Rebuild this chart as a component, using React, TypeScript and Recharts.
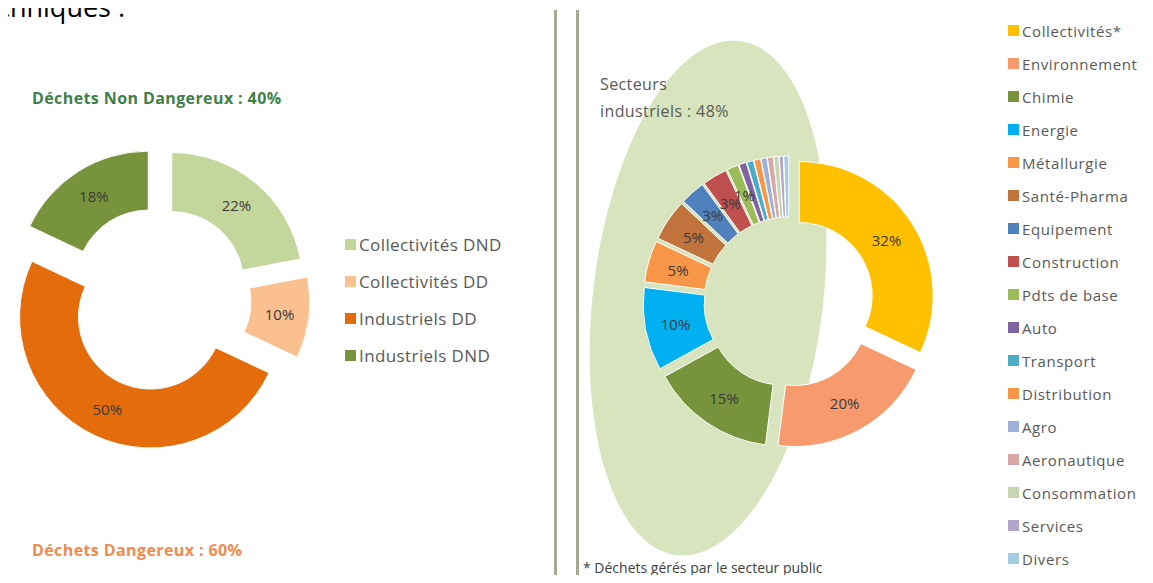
import React from 'react';
import { PieChart, Pie, Cell, Legend } from 'recharts';

// left donut: waste origin
const leftNames = ['Collectivités DND', 'Collectivités DD', 'Industriels DD', 'Industriels DND'];
const leftValues = [22, 10, 50, 18];
const leftColors = ['#c3d69b', '#fac090', '#e46c0a', '#77933c'];

// right donut: sectors
const rightNames = [
  'Collectivités*', 'Environnement', 'Chimie', 'Energie', 'Métallurgie', 'Santé-Pharma',
  'Equipement', 'Construction', 'Pdts de base', 'Auto', 'Transport', 'Distribution',
  'Agro', 'Aeronautique', 'Consommation', 'Services', 'Divers',
];
const rightValues = [32, 20, 15, 10, 5, 5, 3, 3, 1.4, 0.9, 0.8, 0.8, 0.7, 0.7, 0.6, 0.5, 0.6];
const rightColors = [
  '#ffc000', '#f79b6e', '#77933c', '#00b0f0', '#f79646', '#c0743c',
  '#4f81bd', '#c0504d', '#9bbb59', '#8064a2', '#4bacc6', '#f79646',
  '#9db0da', '#d6a7a5', '#c6d6b0', '#b3a6cb', '#a3cde0',
];

const leftData = leftNames.map((name, i) => ({ name, value: leftValues[i] }));
const rightData = rightNames.map((name, i) => ({ name, value: rightValues[i] }));

// offset of each exploded slice, along its bisector (clockwise from 12 o'clock)
const explodeOffsets = (values: number[], d: number) => {
  const total = values.reduce((a, b) => a + b, 0);
  let acc = 0;
  return values.map((v) => {
    const mid = ((acc + v / 2) / total) * 2 * Math.PI;
    acc += v;
    return { dx: d * Math.sin(mid), dy: -d * Math.cos(mid) };
  });
};

const makeLabel = (explode: number, minValue: number) => (props: any) => {
  const { cx, cy, midAngle, innerRadius, outerRadius, value } = props;
  if (value < minValue) return null;
  const r = (innerRadius + outerRadius) / 2 + explode;
  const a = (-midAngle * Math.PI) / 180;
  return (
    <text
      x={cx + r * Math.cos(a)}
      y={cy + r * Math.sin(a)}
      textAnchor="middle"
      dominantBaseline="central"
      fill="#3a3a3a"
      fontSize={15}
    >
      {`${Math.round(value)}%`}
    </text>
  );
};

// keep the data order (Legend sorts by name otherwise)
const makeLegend = (names: string[], rowHeight: number, box: number, fontSize: number, spacing: number) => (props: any) => {
  const items = [...props.payload].sort((a: any, b: any) => names.indexOf(a.value) - names.indexOf(b.value));
  return (
    <ul style={{ listStyle: 'none', margin: 0, padding: 0 }}>
      {items.map((p: any) => (
        <li key={p.value} style={{ display: 'flex', alignItems: 'center', height: rowHeight }}>
          <span style={{ width: box, height: box, background: p.color, marginRight: 3, flex: 'none' }} />
          <span style={{ fontSize, color: '#595959', letterSpacing: spacing, whiteSpace: 'nowrap' }}>{p.value}</span>
        </li>
      ))}
    </ul>
  );
};

const LEFT_EXPLODE = 20;
const RIGHT_EXPLODE = 12;
const leftOffsets = explodeOffsets(leftValues, LEFT_EXPLODE);
const rightOffsets = explodeOffsets(rightValues, RIGHT_EXPLODE);

const abs = (s: React.CSSProperties): React.CSSProperties => ({ position: 'absolute', ...s });

export default function App() {
  return (
    <div
      style={{
        position: 'relative', width: 1153, height: 583, margin: -8, overflow: 'hidden',
        background: '#fff', fontFamily: "'Open Sans', sans-serif",
      }}
    >
      <div style={abs({ left: -3, top: -6, fontSize: 27, lineHeight: '26px', color: '#000' })}>chniques :</div>

      {/* separator */}
      <div style={abs({ left: 554, top: 10, width: 3, height: 600, background: '#a9a992' })} />
      <div style={abs({ left: 576, top: 10, width: 3, height: 600, background: '#a9a992' })} />

      <div style={abs({ left: 32, top: 88, fontSize: 16, lineHeight: '20px', fontWeight: 700, color: '#3f7f48', letterSpacing: 0.4 })}>
        Déchets Non Dangereux : 40%
      </div>
      <div style={abs({ left: 32, top: 540, fontSize: 16, lineHeight: '20px', fontWeight: 700, color: '#f28a4e', letterSpacing: 0.4 })}>
        Déchets Dangereux : 60%
      </div>

      <div style={abs({ left: 0, top: 0 })}>
        <PieChart width={550} height={583} margin={{ top: 0, right: 0, bottom: 0, left: 0 }}>
          <Pie
            data={leftData}
            dataKey="value"
            nameKey="name"
            cx={159}
            cy={299}
            innerRadius={72}
            outerRadius={131}
            startAngle={90}
            endAngle={-270}
            stroke="#fff"
            strokeWidth={1}
            labelLine={false}
            label={makeLabel(LEFT_EXPLODE, 0)}
            isAnimationActive={false}
          >
            {leftData.map((d, i) => (
              <Cell
                key={d.name}
                fill={leftColors[i]}
                transform={`translate(${leftOffsets[i].dx},${leftOffsets[i].dy})`}
              />
            ))}
          </Pie>
          <Legend
            layout="vertical"
            align="right"
            verticalAlign="top"
            wrapperStyle={{ left: 345, top: 226, width: 200 }}
            content={makeLegend(leftNames, 37, 11, 17, 0.4)}
          />
        </PieChart>
      </div>

      {/* industrial sectors highlight */}
      <svg style={abs({ left: 0, top: 0 })} width={1153} height={583}>
        <ellipse cx={708} cy={298} rx={115} ry={259} fill="#d7e4bd" transform="rotate(7 708 298)" />
      </svg>

      <div style={abs({ left: 600, top: 71, fontSize: 16, lineHeight: '27px', color: '#595959', letterSpacing: 0.4 })}>
        Secteurs
        <br />
        industriels : 48%
      </div>

      <div style={abs({ left: 580, top: 0 })}>
        <PieChart width={573} height={583} margin={{ top: 0, right: 0, bottom: 0, left: 0 }}>
          <Pie
            data={rightData}
            dataKey="value"
            nameKey="name"
            cx={209}
            cy={302}
            innerRadius={73}
            outerRadius={134}
            startAngle={90}
            endAngle={-270}
            stroke="#fff"
            strokeWidth={1}
            labelLine={false}
            label={makeLabel(RIGHT_EXPLODE, 1)}
            isAnimationActive={false}
          >
            {rightData.map((d, i) => (
              <Cell
                key={d.name}
                fill={rightColors[i]}
                transform={`translate(${rightOffsets[i].dx},${rightOffsets[i].dy})`}
              />
            ))}
          </Pie>
          <Legend
            layout="vertical"
            align="right"
            verticalAlign="top"
            wrapperStyle={{ left: 428, top: 14, width: 150 }}
            content={makeLegend(rightNames, 33, 11, 15, 0.6)}
          />
        </PieChart>
      </div>

      <div style={abs({ left: 583, top: 559, fontSize: 14, lineHeight: '18px', color: '#404040' })}>
        * Déchets gérés par le secteur public
      </div>
    </div>
  );
}
